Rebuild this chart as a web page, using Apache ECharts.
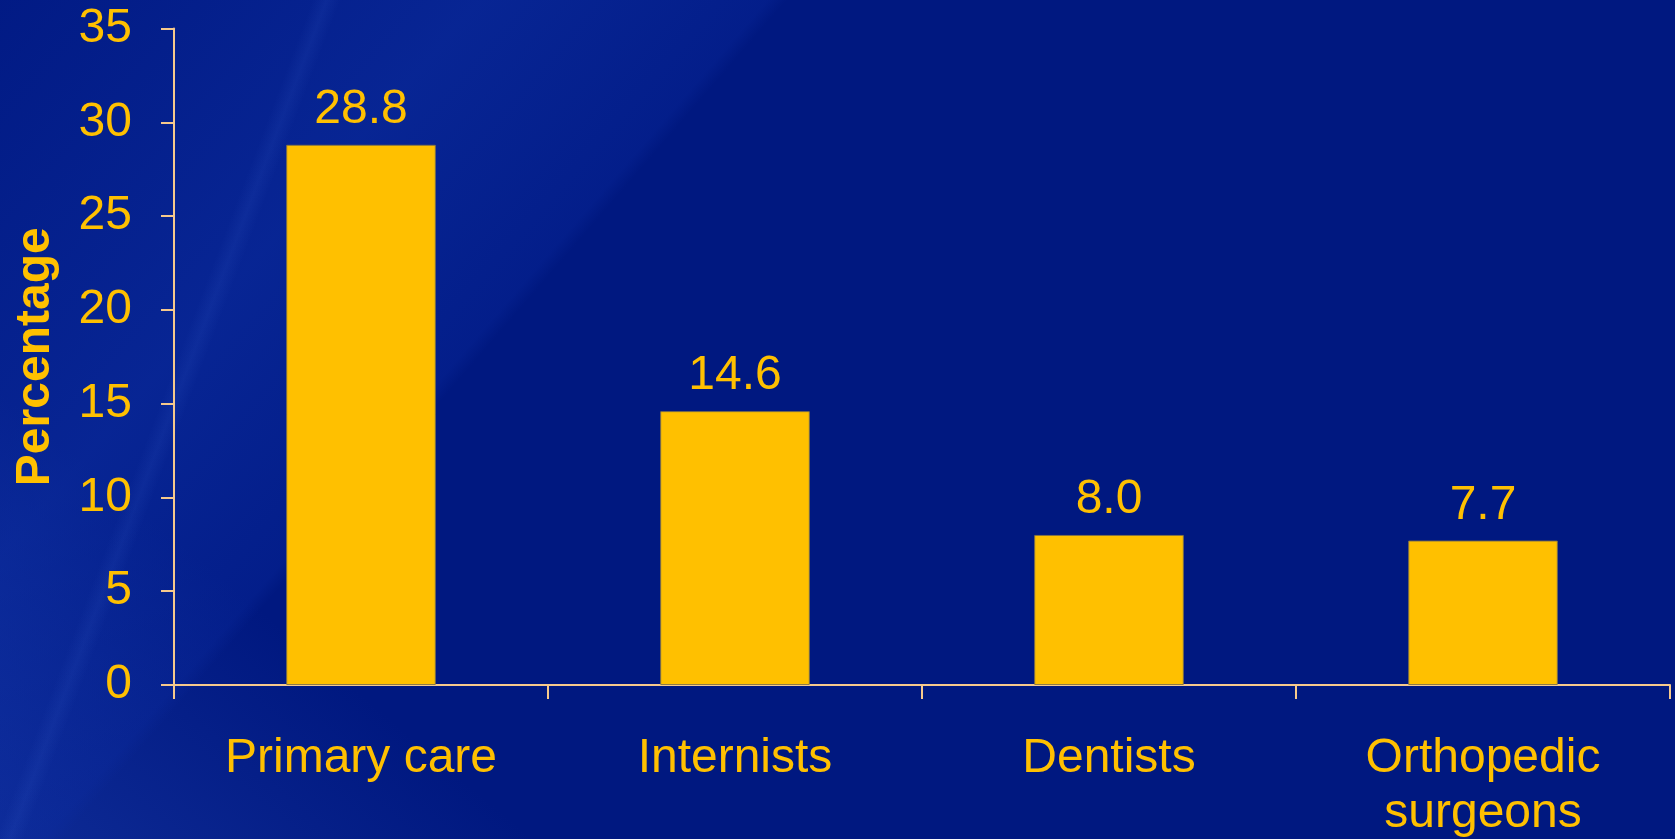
<!DOCTYPE html>
<html>
<head>
<meta charset="utf-8">
<script src="https://cdn.jsdelivr.net/npm/echarts@6/dist/echarts.min.js"></script>
<style>
  html, body { margin: 0; padding: 0; }
  body {
    width: 1675px; height: 839px; overflow: hidden;
    background:
      linear-gradient(110.7deg, rgba(0,0,0,0) 15.7%, rgba(60,100,210,0.12) 16.4%, rgba(0,0,0,0) 17.1%),
      linear-gradient(130.8deg, rgba(10,40,160,0.15) 0%, rgba(18,55,175,0.42) 20%, rgba(12,45,165,0.28) 32%, rgba(0,0,0,0) 32.8%, rgba(0,0,0,0) 100%),
      linear-gradient(40deg, rgba(30,65,175,0.45) 0%, rgba(0,0,0,0) 20%),
      #001880;
  }
  #chart { width: 1675px; height: 839px; }
</style>
</head>
<body>
<div id="chart"></div>
<script>
// Share of respondents by provider type
const categories = ['Primary care', 'Internists', 'Dentists', 'Orthopedic\nsurgeons'];
const percentages = [28.8, 14.6, 8.0, 7.7];
const yTicks = { min: 0, max: 35, interval: 5 };

const gold = '#FFC000';
const axisPeach = '#F6C98C';
const fontFamily = '"Liberation Sans", Arial, sans-serif';

const chart = echarts.init(document.getElementById('chart'), null, { renderer: 'canvas' });

chart.setOption({
  backgroundColor: 'transparent',
  animation: false,
  grid: {
    left: 174, right: 5, top: 28.5, bottom: 154,
    containLabel: false, outerBoundsMode: 'none'
  },
  xAxis: {
    type: 'category',
    data: categories,
    axisLine: { show: true, lineStyle: { color: axisPeach, width: 2 } },
    axisTick: { show: true, alignWithLabel: false, length: 14, lineStyle: { color: axisPeach, width: 2 } },
    axisLabel: {
      color: gold, fontFamily, fontSize: 48, lineHeight: 55, margin: 46, interval: 0
    },
    splitLine: { show: false }
  },
  yAxis: {
    type: 'value',
    min: yTicks.min, max: yTicks.max, interval: yTicks.interval,
    name: 'Percentage',
    nameLocation: 'middle',
    nameGap: 114,
    nameTextStyle: { color: gold, fontFamily, fontSize: 48, fontWeight: 'bold' },
    axisLine: { show: true, lineStyle: { color: axisPeach, width: 2 } },
    axisTick: { show: true, length: 13, lineStyle: { color: axisPeach, width: 2 } },
    axisLabel: { color: gold, fontFamily, fontSize: 48, margin: 42 },
    splitLine: { show: false }
  },
  series: [{
    type: 'bar',
    data: percentages,
    barWidth: '40%',
    itemStyle: { color: gold, borderColor: 'rgba(130,115,70,0.9)', borderWidth: 1 },
    label: {
      show: true, position: 'top', distance: 11,
      color: gold, fontFamily, fontSize: 48,
      formatter: p => p.value.toFixed(1)
    }
  }]
});
</script>
</body>
</html>
